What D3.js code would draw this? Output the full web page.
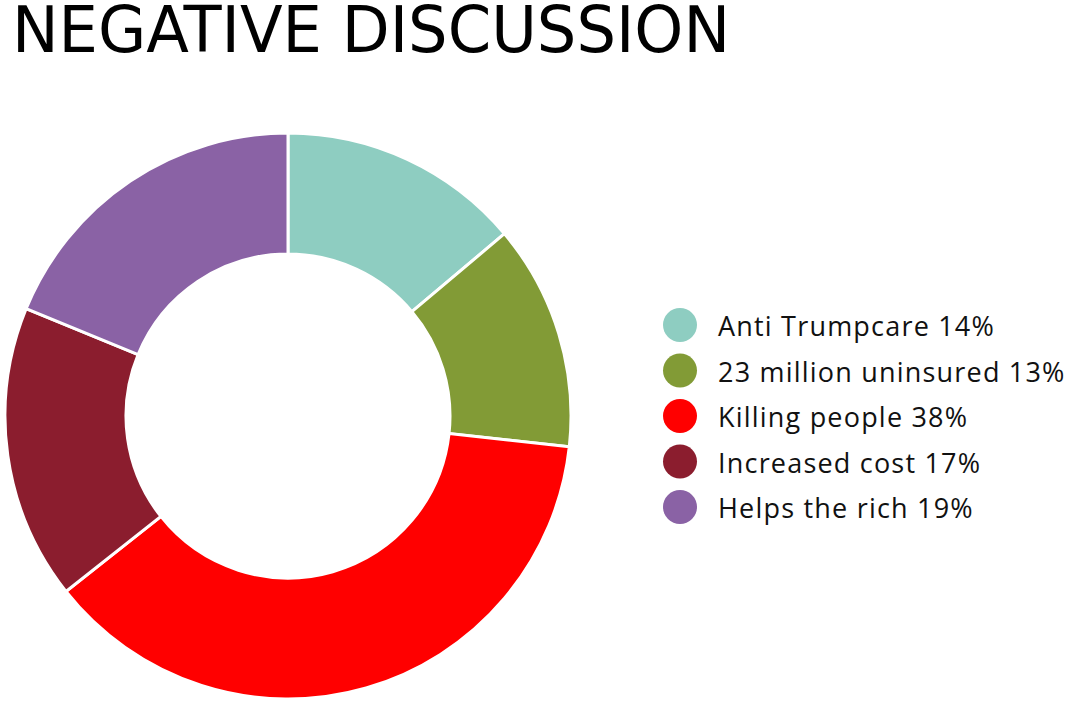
<!DOCTYPE html>
<html>
<head>
<meta charset="utf-8">
<script src="https://cdnjs.cloudflare.com/ajax/libs/d3/7.8.5/d3.min.js"></script>
<style>
  body { margin: 0; background: #fff; }
  svg { display: block; }
</style>
</head>
<body>
<script>
var labels = ['Anti Trumpcare', '23 million uninsured', 'Killing people', 'Increased cost', 'Helps the rich'];
var values = [14, 13, 38, 17, 19];
var colors = ['#8ecdc1', '#829b36', '#ff0000', '#8b1d2e', '#8a62a5'];

var data = labels.map(function(l, i){
  return {label: l, value: values[i], color: colors[i]};
});

var svg = d3.select('body')
  .append('svg').attr('width', 1068)
  .attr('height', 702);

svg.append('text')
  .attr('x', 12)
  .attr('y', 52)
  .attr('font-family', 'DejaVu Sans Condensed, DejaVu Sans')
  .attr('font-size', 64)
  .attr('textLength', 718)
  .attr('lengthAdjust', 'spacingAndGlyphs')
  .attr('fill', '#000')
  .text('NEGATIVE DISCUSSION');

var pie = d3.pie().sort(null).value(function(d){ return d.value; });
var arc = d3.arc().innerRadius(162).outerRadius(283);

var g = svg.append('g').attr('transform', 'translate(288,416)');

g.selectAll('path')
  .data(pie(data))
  .enter().append('path')
  .attr('d', arc)
  .attr('fill', function(d){ return d.data.color; })
  .attr('stroke', '#fff')
  .attr('stroke-width', 3);

var legend = svg.append('g').attr('transform', 'translate(680,325)');

var items = legend.selectAll('g')
  .data(data)
  .enter().append('g')
  .attr('transform', function(d, i){ return 'translate(0,' + (i * 45.5) + ')'; });

items.append('circle')
  .attr('r', 17)
  .attr('fill', function(d){ return d.color; });

items.append('text')
  .attr('x', 38)
  .attr('y', 11)
  .attr('font-family', 'Open Sans, sans-serif')
  .attr('font-size', 27)
  .attr('letter-spacing', 1.2)
  .attr('fill', '#111')
  .text(function(d){ return d.label + ' ' + d.value + '%'; });
</script>
</body>
</html>
